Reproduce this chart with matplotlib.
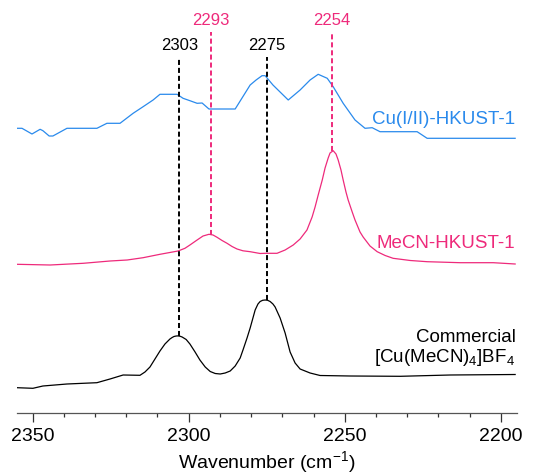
import numpy as np
import matplotlib
matplotlib.use("Agg")
import matplotlib.pyplot as plt

plt.rcParams["font.family"] = ["Liberation Sans", "DejaVu Sans"]
plt.rcParams["mathtext.fontset"] = "custom"
plt.rcParams["mathtext.rm"] = "Liberation Sans"
plt.rcParams["mathtext.it"] = "Liberation Sans:italic"
plt.rcParams["mathtext.default"] = "rm"

# IR spectra in the nitrile stretching region (absorbance, arbitrary units)
wn_commercial = [2355.0, 2349.9, 2346.7, 2339.0, 2329.4, 2325.2, 2321.0, 2315.6, 2314.0,
                 2312.4, 2310.8, 2309.2, 2307.6, 2306.0, 2305.3, 2304.7, 2304.0, 2303.4,
                 2302.7, 2302.1, 2300.8, 2299.6, 2297.95, 2296.4, 2294.7, 2293.1, 2291.5,
                 2289.9, 2288.3, 2286.7, 2285.1, 2283.5, 2282.6, 2281.3, 2280.3, 2278.7,
                 2277.8, 2277.1, 2276.3, 2275.5, 2274.7, 2273.9, 2273.0, 2272.3, 2270.7,
                 2269.1, 2267.5, 2265.9, 2264.3, 2261.1, 2257.9, 2248.3, 2232.2, 2216.2,
                 2195.4]
abs_commercial = [0.023, 0.017, 0.040, 0.060, 0.073, 0.110, 0.150, 0.147, 0.180,
                  0.230, 0.310, 0.390, 0.460, 0.510, 0.525, 0.535, 0.540, 0.541,
                  0.537, 0.530, 0.505, 0.460, 0.380, 0.300, 0.230, 0.185, 0.165,
                  0.160, 0.170, 0.190, 0.240, 0.320, 0.400, 0.520, 0.620, 0.800,
                  0.860, 0.885, 0.897, 0.900, 0.897, 0.885, 0.860, 0.830, 0.720,
                  0.570, 0.380, 0.270, 0.210, 0.170, 0.145, 0.140, 0.137, 0.150,
                  0.155]

wn_mecn = [2355.0, 2344.4, 2333.8, 2325.2, 2319.7, 2314.6, 2309.2, 2303.4, 2301.2,
           2299.6, 2297.3, 2295.4, 2293.5, 2292.2, 2290.9, 2289.3, 2287.7, 2286.1,
           2284.5, 2282.6, 2280.3, 2277.1, 2275.5, 2271.7, 2269.1, 2266.5, 2264.3,
           2262.1, 2260.45, 2259.5, 2258.5, 2257.2, 2256.3, 2255.3, 2254.7, 2253.7,
           2252.8, 2252.1, 2251.2, 2250.5, 2249.6, 2248.9, 2247.6, 2246.7, 2245.1,
           2244.1, 2241.9, 2239.6, 2237.05, 2234.5, 2229.0, 2223.6, 2213.0, 2202.4,
           2195.4]
abs_mecn = [0.017, 0.010, 0.027, 0.050, 0.060, 0.083, 0.117, 0.150, 0.177,
            0.210, 0.260, 0.300, 0.317, 0.310, 0.287, 0.255, 0.227, 0.195,
            0.170, 0.152, 0.143, 0.125, 0.127, 0.127, 0.160, 0.210, 0.270,
            0.360, 0.490, 0.590, 0.710, 0.860, 0.980, 1.080, 1.130, 1.153,
            1.120, 1.060, 0.960, 0.860, 0.740, 0.660, 0.540, 0.460, 0.340,
            0.290, 0.200, 0.143, 0.105, 0.077, 0.055, 0.043, 0.033, 0.033,
            0.020]

wn_cu = [2355.0, 2353.4, 2350.2, 2347.6, 2346.7, 2344.7, 2343.5, 2339.0, 2329.4,
         2326.2, 2322.0, 2317.8, 2314.6, 2311.4, 2309.2, 2303.7, 2301.8, 2299.6,
         2297.3, 2295.7, 2293.5, 2285.1, 2280.3, 2278.4, 2276.5, 2275.5, 2273.0,
         2268.1, 2264.3, 2261.1, 2258.5, 2255.6, 2253.7, 2250.5, 2246.7, 2243.5,
         2241.2, 2238.7, 2226.8, 2223.6, 2195.4]
abs_cu = [0.117, 0.117, 0.060, 0.107, 0.093, 0.040, 0.040, 0.117, 0.117,
          0.167, 0.167, 0.267, 0.333, 0.400, 0.457, 0.457, 0.417, 0.393,
          0.367, 0.370, 0.310, 0.310, 0.550, 0.600, 0.643, 0.643, 0.550,
          0.400, 0.500, 0.600, 0.657, 0.617, 0.533, 0.367, 0.200, 0.117,
          0.123, 0.083, 0.083, 0.017, 0.017]

# vertical stacking offsets
offsets = {"commercial": 0.233, "mecn": 1.473, "cu": 2.733}

peaks_black = [2303, 2275]
peaks_pink = [2293, 2254]

BLUE = "#2A8AEC"
PINK = "#EE2A7B"
BLACK = "#000000"

fig = plt.figure(figsize=(5.39, 4.75), dpi=100)
ax = fig.add_axes([16.7 / 539, 61.7 / 475, 500 / 539, 413.3 / 475])

y_com = np.array(abs_commercial) + offsets["commercial"]
y_mecn = np.array(abs_mecn) + offsets["mecn"]
y_cu = np.array(abs_cu) + offsets["cu"]

ax.plot(wn_commercial, y_com, color=BLACK, lw=0.9)
ax.plot(wn_mecn, y_mecn, color=PINK, lw=0.9)
ax.plot(wn_cu, y_cu, color=BLUE, lw=0.9)

black_top = 3.563
pink_top = 3.813
for p in peaks_black:
    yb = np.interp(p, wn_commercial[::-1], y_com[::-1])
    ax.plot([p, p], [yb, black_top], color=BLACK, lw=1.4, ls=(0, (2.6, 1.5)))
    ax.text(p, 3.683, str(p), color=BLACK, ha="center", va="center", fontsize=12)
for p in peaks_pink:
    yb = np.interp(p, wn_mecn[::-1], y_mecn[::-1])
    ax.plot([p, p], [yb, pink_top], color=PINK, lw=1.4, ls=(0, (2.6, 1.5)))
    ax.text(p, 3.933, str(p), color=PINK, ha="center", va="center", fontsize=12)

ax.text(2195.3, 2.943, "Cu(I/II)-HKUST-1", color=BLUE, ha="right", va="center", fontsize=13.5)
ax.text(2195.3, 1.703, "MeCN-HKUST-1", color=PINK, ha="right", va="center", fontsize=13.5)
ax.text(2195.3, 0.763, "Commercial", color=BLACK, ha="right", va="center", fontsize=13.5)
ax.text(2195.3, 0.553, "[Cu(MeCN)$_4$]BF$_4$", color=BLACK, ha="right", va="center", fontsize=13.5)

ax.set_xlim(2355.1, 2194.9)
ax.set_ylim(0, 4.133)
ax.set_xticks([2350, 2300, 2250, 2200])
ax.set_xticks(np.arange(2200, 2351, 10), minor=True)
ax.tick_params(axis="x", which="major", length=6.5, width=0.9, color="#333333",
               labelsize=14, pad=4)
ax.tick_params(axis="x", which="minor", length=3.2, width=0.9, color="#333333")
ax.set_yticks([])
for s in ("left", "right", "top"):
    ax.spines[s].set_visible(False)
ax.spines["bottom"].set_color("#555555")
ax.spines["bottom"].set_linewidth(0.9)
ax.set_xlabel("Wavenumber (cm$^{-1}$)", fontsize=14, labelpad=3)

fig.savefig("out.png", dpi=100)
